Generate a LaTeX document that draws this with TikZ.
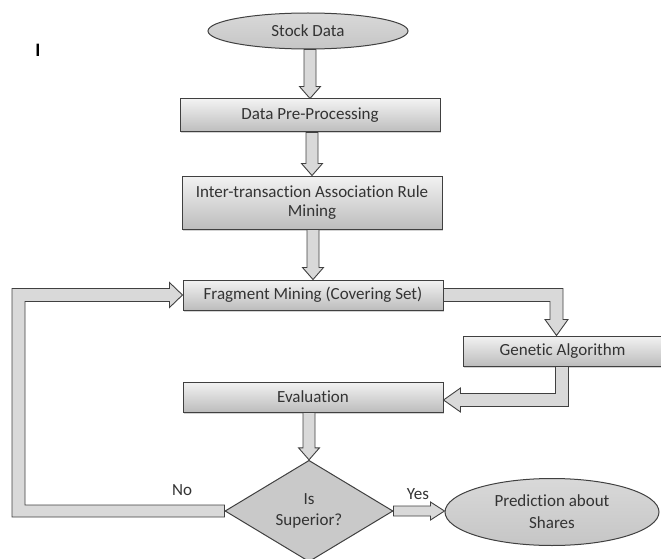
\documentclass[tikz,border=0pt]{standalone}
\usepackage{fontspec}
\setmainfont{Carlito}[Ligatures=NoCommon]
\usetikzlibrary{shapes.geometric,calc,shadows}
\definecolor{edgec}{HTML}{404040}
\definecolor{txtc}{HTML}{333333}
\newcommand{\varrowblk}[2]{%
  \path[blockarrow] ($(#1.south -| #2.north)+(-6,0)$) -- ($(#2.north)+(-6,-12)$)
    -- ($(#2.north)+(-10.5,-12)$) -- (#2.north) -- ($(#2.north)+(10.5,-12)$)
    -- ($(#2.north)+(6,-12)$) -- ($(#1.south -| #2.north)+(6,0)$) -- cycle;}
\begin{document}
\begin{tikzpicture}[x=1pt,y=-1pt,
  font=\fontsize{17}{20}\selectfont, text=txtc,
  box/.style={draw=edgec, line width=1pt, top color=gray!10, bottom color=gray!52,
    inner sep=2pt, align=center,
    drop shadow={shadow xshift=1pt, shadow yshift=-1.5pt, opacity=0.35}},
  ellnode/.style={ellipse, draw=edgec, line width=1pt, top color=gray!30, bottom color=gray!45,
    inner sep=0pt, align=center},
  dia/.style={diamond, draw=edgec, line width=1pt, fill=gray!42, inner sep=0pt,
    minimum width=168pt, minimum height=98pt, align=center},
  blockarrow/.style={draw=edgec, line width=0.9pt, fill=gray!30, line join=miter},
  lbl/.style={inner sep=0pt}]
\useasboundingbox (0,0) rectangle (661,559);

% nodes
\node[lbl, font=\fontsize{19}{20}\selectfont\bfseries, text=black] (mark) at (38,50) {I};
\node[ellnode, minimum width=200pt, minimum height=36pt] (stock) at (308,31) {Stock Data};
\node[box, minimum width=260pt, minimum height=33pt] (pre) at (310,115.5) {Data Pre-Processing};
\node[box, minimum width=260pt, minimum height=53pt] (inter) at (312,202.5) {Inter-transaction Association Rule\\[-1pt]Mining};
\node[box, minimum width=260pt, minimum height=30pt] (frag) at (313,295) {Fragment Mining (Covering Set)};
\node[box, minimum width=199pt, minimum height=30pt] (ga) at (562.5,351) {Genetic Algorithm};
\node[box, minimum width=260pt, minimum height=30pt] (eval) at (313,397) {Evaluation};
\node[dia] (dec) at (309,511) {Is\\[1pt]Superior?};
\node[ellnode, minimum width=214pt, minimum height=67pt] (pred) at (552,512) {Prediction about\\[2pt]Shares};
\node[lbl] (no) at (182,490) {No};
\node[lbl] (yes) at (418,494) {Yes};
\coordinate (lx) at (18.5,400);

% straight block arrows
\varrowblk{stock}{pre}
\varrowblk{pre}{inter}
\varrowblk{inter}{frag}
\varrowblk{eval}{dec}

% fragment -> genetic algorithm
\path[blockarrow] ($(frag.east)+(0,-6.5)$) -- ($(frag.east -| ga.north)+(0.5,-6.5)$)
  -- ($(ga.north)+(0.5,-16)$) -- ($(ga.north)+(5.5,-16)$) -- ($(ga.north)+(-6,0)$)
  -- ($(ga.north)+(-17.5,-16)$) -- ($(ga.north)+(-12.5,-16)$)
  -- ($(frag.east -| ga.north)+(-12.5,6.5)$) -- ($(frag.east)+(0,6.5)$) -- cycle;

% genetic algorithm -> evaluation
\path[blockarrow] ($(ga.south)+(-7,0)$) -- ($(ga.south)+(6,0)$)
  -- ($(ga.south |- eval.east)+(6,9.5)$) -- ($(eval.east)+(17,9.5)$)
  -- ($(eval.east)+(17,15)$) -- ($(eval.east)+(0,3)$) -- ($(eval.east)+(17,-9)$)
  -- ($(eval.east)+(17,-3.5)$) -- ($(ga.south |- eval.east)+(-7,-3.5)$) -- cycle;

% No loop: decision -> fragment mining
\path[blockarrow] ($(dec.west)+(0,-6)$) -- ($(dec.west -| lx)+(6.5,-6)$)
  -- ($(frag.west -| lx)+(6.5,6.5)$) -- ($(frag.west)+(-13,6.5)$)
  -- ($(frag.west)+(-13,12.5)$) -- (frag.west) -- ($(frag.west)+(-13,-12.5)$)
  -- ($(frag.west)+(-13,-6.5)$) -- ($(frag.west -| lx)+(-6.5,-6.5)$)
  -- ($(dec.west -| lx)+(-6.5,6)$) -- ($(dec.west)+(0,6)$) -- cycle;

% Yes: decision -> prediction
\path[blockarrow] ($(dec.east)+(0,-5)$) -- ($(dec.east -| pred.west)+(-14,-5)$)
  -- ($(dec.east -| pred.west)+(-14,-9)$) -- (dec.east -| pred.west)
  -- ($(dec.east -| pred.west)+(-14,9)$) -- ($(dec.east -| pred.west)+(-14,5)$)
  -- ($(dec.east)+(0,5)$) -- cycle;
\end{tikzpicture}
\end{document}
